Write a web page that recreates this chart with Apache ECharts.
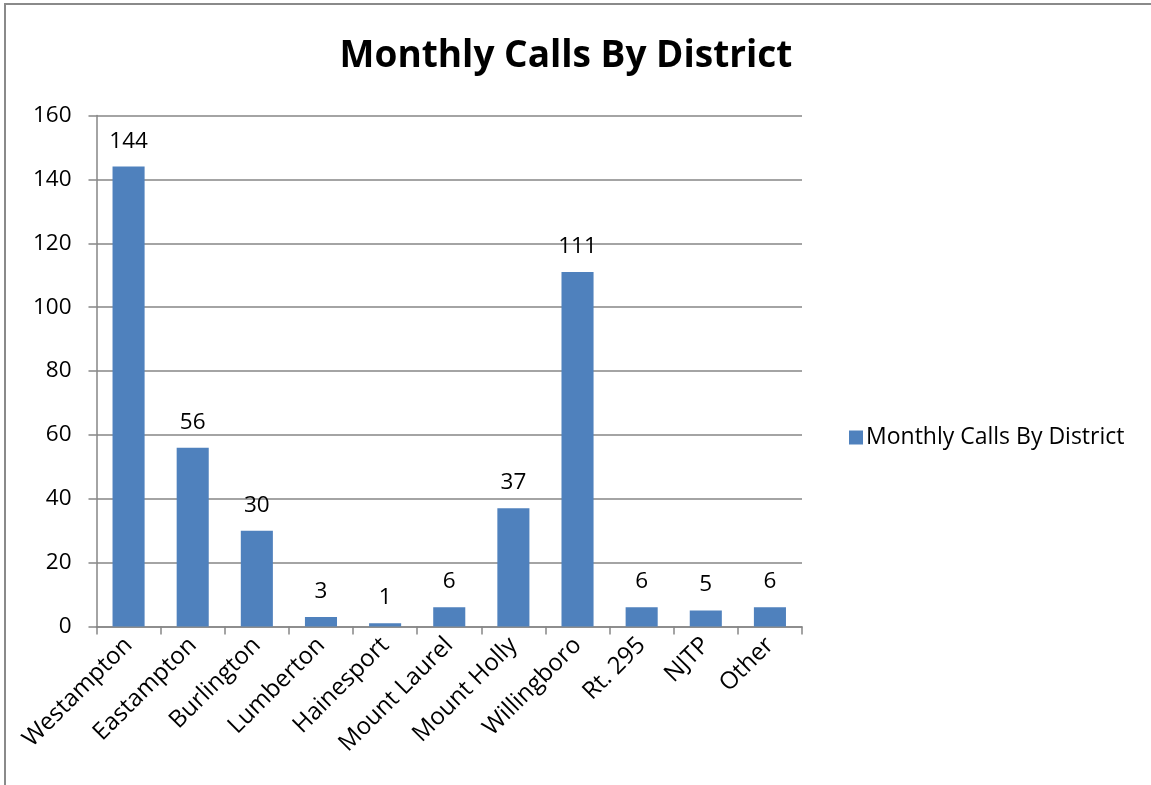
<!DOCTYPE html>
<html>
<head>
<meta charset="utf-8">
<script src="https://cdn.jsdelivr.net/npm/echarts@6/dist/echarts.min.js"></script>
<style>
  html, body { margin: 0; padding: 0; background: #fff; overflow: hidden; }
  #frame {
    position: absolute; left: 4px; top: 3px; width: 1200px; height: 800px;
    border-left: 2px solid #8a8a8a; border-top: 2px solid #8a8a8a;
  }
  #chart { position: absolute; left: 0; top: 0; width: 1151px; height: 785px; }
</style>
</head>
<body>
<div id="frame"></div>
<div id="chart"></div>
<script>
  const districts = ['Westampton', 'Eastampton', 'Burlington', 'Lumberton', 'Hainesport',
    'Mount Laurel', 'Mount Holly', 'Willingboro', 'Rt. 295', 'NJTP', 'Other'];
  const calls = [144, 56, 30, 3, 1, 6, 37, 111, 6, 5, 6];
  const seriesName = 'Monthly Calls By District';

  const font = '"Open Sans", "Noto Sans", sans-serif';
  const gray = '#868686';

  const chart = echarts.init(document.getElementById('chart'));
  chart.setOption({
    animation: false,
    title: {
      text: 'Monthly Calls By District',
      left: 561, top: 33, textAlign: 'center',
      textStyle: { fontFamily: font, fontWeight: 'bold', fontSize: 37, color: '#000' }
    },
    legend: {
      data: [seriesName],
      left: 844, top: 421,
      itemWidth: 14, itemHeight: 14, itemGap: 8,
      icon: 'rect',
      textStyle: { fontFamily: font, fontSize: 23, color: '#000', padding: [0, 0, 0, -2] }
    },
    grid: { left: 96.5, right: 349, top: 115.5, bottom: 158.5, containLabel: false },
    xAxis: {
      type: 'category',
      data: districts,
      boundaryGap: true,
      axisLine: { lineStyle: { color: gray, width: 1.5 } },
      axisTick: { show: true, length: 8, lineStyle: { color: gray, width: 1.5 } },
      axisLabel: {
        rotate: 45, margin: 15, interval: 0,
        fontFamily: font, fontSize: 24, color: '#000'
      }
    },
    yAxis: {
      type: 'value', min: 0, max: 160, interval: 20,
      axisLine: { show: true, lineStyle: { color: gray, width: 1.5 } },
      axisTick: { show: true, length: 8, lineStyle: { color: gray, width: 1.5 } },
      splitLine: { lineStyle: { color: gray, width: 1.5 } },
      axisLabel: { margin: 25, fontFamily: font, fontSize: 22.5, color: '#000' }
    },
    series: [{
      name: seriesName,
      type: 'bar',
      data: calls,
      barWidth: '50%',
      itemStyle: { color: '#4F81BD' },
      label: {
        show: true, position: 'top', distance: 14,
        fontFamily: font, fontSize: 22.5, color: '#000'
      }
    }]
  });
</script>
</body>
</html>
